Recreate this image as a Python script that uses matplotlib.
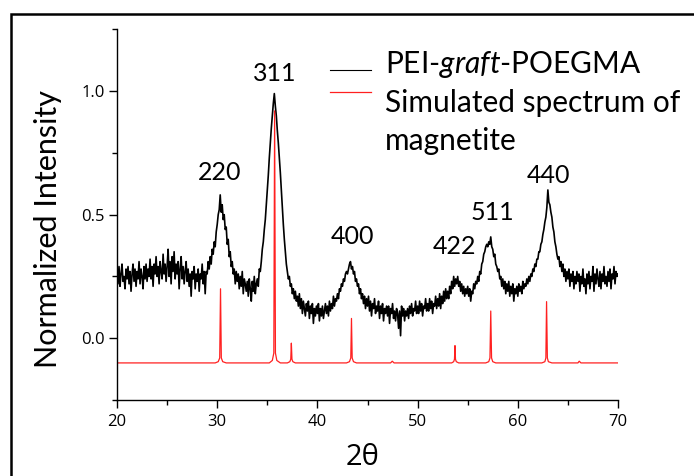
import numpy as np
import matplotlib
matplotlib.use('Agg')
import matplotlib.pyplot as plt
from matplotlib.lines import Line2D
from matplotlib.patches import Rectangle

plt.rcParams['font.family'] = ['Lato', 'DejaVu Sans']
plt.rcParams['mathtext.fontset'] = 'custom'
plt.rcParams['mathtext.it'] = 'Lato:italic'
plt.rcParams['mathtext.rm'] = 'Lato'

# measured pattern, one value every 0.1 degree from 20 to 70 (2-theta)
two_theta = np.round(np.arange(20.0, 70.05, 0.1), 2)
measured = [
    0.27, 0.22, 0.29, 0.21, 0.26, 0.30, 0.23, 0.25, 0.20, 0.28,  # 20
    0.24, 0.29, 0.22, 0.27, 0.19, 0.26, 0.30, 0.23, 0.28, 0.21,  # 21
    0.27, 0.24, 0.31, 0.22, 0.28, 0.25, 0.20, 0.29, 0.24, 0.30,  # 22
    0.23, 0.28, 0.25, 0.32, 0.24, 0.29, 0.21, 0.30, 0.26, 0.33,  # 23
    0.25, 0.29, 0.22, 0.31, 0.27, 0.24, 0.34, 0.26, 0.30, 0.23,  # 24
    0.29, 0.36, 0.25, 0.31, 0.22, 0.33, 0.27, 0.35, 0.24, 0.30,  # 25
    0.26, 0.31, 0.20, 0.28, 0.33, 0.24, 0.29, 0.22, 0.27, 0.31,  # 26
    0.23, 0.28, 0.21, 0.26, 0.17, 0.27, 0.24, 0.29, 0.20, 0.26,  # 27
    0.23, 0.28, 0.19, 0.26, 0.24, 0.30, 0.22, 0.27, 0.18, 0.27,  # 28
    0.26, 0.31, 0.28, 0.33, 0.30, 0.36, 0.34, 0.39, 0.37, 0.43,  # 29
    0.46, 0.50, 0.52, 0.58, 0.51, 0.54, 0.48, 0.50, 0.44, 0.45,  # 30
    0.38, 0.40, 0.33, 0.35, 0.29, 0.31, 0.26, 0.28, 0.22, 0.27,  # 31
    0.23, 0.26, 0.20, 0.25, 0.21, 0.27, 0.18, 0.24, 0.22, 0.19,  # 32
    0.23, 0.17, 0.24, 0.20, 0.15, 0.23, 0.19, 0.25, 0.18, 0.22,  # 33
    0.24, 0.21, 0.28, 0.27, 0.31, 0.36, 0.39, 0.44, 0.48, 0.54,  # 34
    0.60, 0.66, 0.73, 0.79, 0.85, 0.90, 0.95, 0.99, 0.94, 0.90,  # 35
    0.84, 0.79, 0.73, 0.67, 0.60, 0.53, 0.46, 0.40, 0.35, 0.30,  # 36
    0.27, 0.24, 0.25, 0.21, 0.22, 0.18, 0.20, 0.16, 0.19, 0.15,  # 37
    0.17, 0.13, 0.18, 0.12, 0.16, 0.10, 0.15, 0.12, 0.09, 0.14,  # 38
    0.11, 0.15, 0.08, 0.13, 0.10, 0.14, 0.06, 0.12, 0.09, 0.13,  # 39
    0.10, 0.14, 0.07, 0.12, 0.09, 0.13, 0.08, 0.11, 0.14, 0.10,  # 40
    0.13, 0.09, 0.15, 0.11, 0.14, 0.12, 0.17, 0.13, 0.16, 0.15,  # 41
    0.18, 0.16, 0.20, 0.19, 0.22, 0.21, 0.24, 0.23, 0.26, 0.27,  # 42
    0.26, 0.28, 0.30, 0.31, 0.28, 0.29, 0.26, 0.27, 0.23, 0.24,  # 43
    0.21, 0.22, 0.18, 0.20, 0.16, 0.18, 0.14, 0.17, 0.12, 0.16,  # 44
    0.13, 0.17, 0.11, 0.15, 0.09, 0.14, 0.12, 0.16, 0.10, 0.13,  # 45
    0.11, 0.15, 0.08, 0.13, 0.10, 0.14, 0.07, 0.12, 0.10, 0.13,  # 46
    0.09, 0.13, 0.06, 0.12, 0.10, 0.14, 0.08, 0.11, 0.07, 0.12,  # 47
    0.10, 0.04, 0.11, 0.01, 0.13, 0.09, 0.12, 0.07, 0.11, 0.09,  # 48
    0.12, 0.08, 0.13, 0.10, 0.14, 0.09, 0.12, 0.11, 0.15, 0.10,  # 49
    0.13, 0.10, 0.15, 0.11, 0.14, 0.09, 0.13, 0.12, 0.16, 0.11,  # 50
    0.14, 0.11, 0.16, 0.12, 0.15, 0.10, 0.14, 0.13, 0.17, 0.12,  # 51
    0.16, 0.13, 0.18, 0.12, 0.17, 0.14, 0.19, 0.15, 0.20, 0.16,  # 52
    0.19, 0.16, 0.21, 0.18, 0.23, 0.20, 0.25, 0.21, 0.24, 0.22,  # 53
    0.25, 0.21, 0.23, 0.19, 0.22, 0.18, 0.21, 0.17, 0.20, 0.18,  # 54
    0.21, 0.17, 0.20, 0.15, 0.19, 0.18, 0.22, 0.20, 0.23, 0.22,  # 55
    0.25, 0.23, 0.27, 0.26, 0.30, 0.31, 0.34, 0.35, 0.37, 0.38,  # 56
    0.37, 0.39, 0.38, 0.41, 0.37, 0.36, 0.33, 0.34, 0.30, 0.29,  # 57
    0.27, 0.28, 0.24, 0.25, 0.21, 0.24, 0.20, 0.23, 0.18, 0.22,  # 58
    0.19, 0.23, 0.17, 0.21, 0.18, 0.22, 0.15, 0.20, 0.18, 0.21,  # 59
    0.17, 0.22, 0.19, 0.21, 0.18, 0.23, 0.20, 0.22, 0.21, 0.24,  # 60
    0.22, 0.25, 0.23, 0.26, 0.25, 0.28, 0.27, 0.30, 0.29, 0.32,  # 61
    0.32, 0.35, 0.35, 0.38, 0.39, 0.42, 0.44, 0.47, 0.49, 0.53,  # 62
    0.60, 0.55, 0.54, 0.51, 0.49, 0.45, 0.43, 0.39, 0.37, 0.34,  # 63
    0.32, 0.33, 0.29, 0.31, 0.27, 0.30, 0.25, 0.28, 0.23, 0.27,  # 64
    0.24, 0.28, 0.21, 0.26, 0.23, 0.27, 0.20, 0.25, 0.22, 0.27,  # 65
    0.23, 0.26, 0.19, 0.25, 0.22, 0.28, 0.21, 0.24, 0.18, 0.26,  # 66
    0.22, 0.27, 0.20, 0.25, 0.23, 0.29, 0.19, 0.26, 0.22, 0.28,  # 67
    0.24, 0.21, 0.27, 0.20, 0.26, 0.23, 0.29, 0.22, 0.25, 0.21,  # 68
    0.27, 0.23, 0.28, 0.20, 0.26, 0.24, 0.29, 0.22, 0.27, 0.25,  # 69
    0.26,                                                        # 70
]

# simulated magnetite pattern (offset baseline at -0.1)
sim_x = [20.0,
         29.8, 30.1, 30.25, 30.33, 30.41, 30.55, 30.9,
         35.2, 35.5, 35.65, 35.73, 35.81, 35.95, 36.3,
         37.0, 37.25, 37.34, 37.4, 37.46, 37.55, 37.8,
         42.9, 43.2, 43.33, 43.4, 43.47, 43.6, 43.9,
         47.3, 47.47, 47.65,
         53.4, 53.6, 53.68, 53.73, 53.78, 53.86, 54.1,
         56.8, 57.1, 57.22, 57.3, 57.38, 57.5, 57.8,
         62.4, 62.7, 62.8, 62.87, 62.95, 63.05, 63.4,
         66.0, 66.13, 66.3,
         70.0]
sim_y = [-0.10,
         -0.10, -0.095, -0.08, 0.20, -0.08, -0.095, -0.10,
         -0.10, -0.09, -0.06, 0.92, -0.06, -0.09, -0.10,
         -0.10, -0.095, -0.085, -0.02, -0.085, -0.095, -0.10,
         -0.10, -0.095, -0.08, 0.08, -0.08, -0.095, -0.10,
         -0.10, -0.093, -0.10,
         -0.10, -0.095, -0.085, -0.03, -0.085, -0.095, -0.10,
         -0.10, -0.095, -0.08, 0.11, -0.08, -0.095, -0.10,
         -0.10, -0.095, -0.08, 0.148, -0.08, -0.095, -0.10,
         -0.10, -0.093, -0.10,
         -0.10]

peak_labels = ['220', '311', '400', '422', '511', '440']
label_x = [30.2, 35.75, 43.5, 53.7, 57.45, 63.05]
label_y = [0.67, 1.07, 0.41, 0.37, 0.51, 0.66]

fig = plt.figure(figsize=(6.94, 4.76), dpi=100)
ax = fig.add_axes([0.1686, 0.1597, 0.7219, 0.7787])

ax.plot(two_theta, measured, color='black', lw=1.2)
ax.plot(sim_x, sim_y, color='#ff2020', lw=0.9)

for lab, lx, ly in zip(peak_labels, label_x, label_y):
    ax.text(lx, ly, lab, fontsize=18, ha='center', va='center')

ax.set_xlim(20, 70)
ax.set_ylim(-0.25, 1.25)
ax.set_xticks([20, 30, 40, 50, 60, 70])
ax.set_xticks([25, 35, 45, 55, 65], minor=True)
ax.set_yticks([0.0, 0.5, 1.0])
ax.set_yticklabels(['0.0', '0.5', '1.0'])
ax.set_yticks([-0.25, 0.25, 0.75, 1.25], minor=True)
for s in ['top', 'right']:
    ax.spines[s].set_visible(False)
for s in ['left', 'bottom']:
    ax.spines[s].set_linewidth(1.0)
ax.tick_params(which='major', length=6, width=1.0, labelsize=12)
ax.tick_params(which='minor', length=3.5, width=1.0)
ax.tick_params(axis='x', pad=4)
ax.tick_params(axis='y', pad=3)
for t in ax.get_xticklabels() + ax.get_yticklabels():
    t.set_family(['Open Sans', 'DejaVu Sans'])

ax.set_ylabel('Normalized Intensity', fontsize=22, va='center')
ax.yaxis.set_label_coords(-0.137, 0.461)
ax.set_xlabel('2θ', fontsize=21, family=['Open Sans', 'DejaVu Sans'], va='center')
ax.xaxis.set_label_coords(0.491, -0.154)

# legend drawn by hand to keep the original layout
W, H = 694.0, 476.0
fig.add_artist(Line2D([330 / W, 371 / W], [1 - 70 / H, 1 - 70 / H], color='black', lw=0.8))
fig.add_artist(Line2D([330 / W, 371 / W], [1 - 92 / H, 1 - 92 / H], color='#ff2020', lw=0.9))
fig.text(385 / W, 1 - 73 / H, r'PEI-$\mathit{graft}$-POEGMA', fontsize=21.5, va='baseline')
fig.text(385 / W, 1 - 112 / H, 'Simulated spectrum of', fontsize=21.5, va='baseline')
fig.text(385 / W, 1 - 150 / H, 'magnetite', fontsize=21.5, va='baseline')

# outer frame
fig.add_artist(Rectangle((10.5 / W, -0.1), 1.2, 1 - 14 / H + 0.1, fill=False,
                         edgecolor='black', lw=1.8, transform=fig.transFigure))

fig.savefig('out.png', dpi=100)
